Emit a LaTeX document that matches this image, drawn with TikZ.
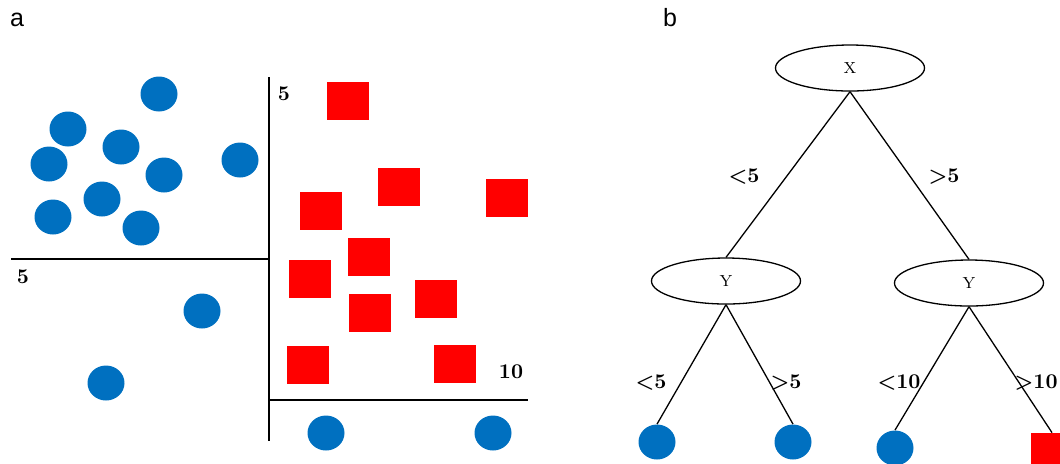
\documentclass[tikz,border=0pt]{standalone}
\usepackage{fontspec}
\newfontfamily\panelfont{Liberation Sans}
\usetikzlibrary{shapes.geometric}
\definecolor{dotblue}{RGB}{0,112,192}
\definecolor{boxred}{RGB}{255,0,0}

\begin{document}
\begin{tikzpicture}[x=0.5pt, y=-0.5pt,
 dot/.style={ellipse, fill=dotblue, inner sep=0pt, minimum width=18.5pt, minimum height=17.5pt},
 sq/.style={rectangle, fill=boxred, inner sep=0pt, minimum width=21pt, minimum height=19pt},
 split/.style={ellipse, draw, line width=.65pt, inner sep=0pt, minimum width=74.5pt, minimum height=23pt, font=\fontsize{8}{9}\selectfont},
 tick/.style={inner sep=0pt, font=\fontsize{10.5}{12}\selectfont\bfseries},
 panel/.style={inner sep=0pt, font=\panelfont\fontsize{12.5}{14}\selectfont},
 axis/.style={line width=1pt},
 edge/.style={line width=.65pt}]
\useasboundingbox (0,0) rectangle (1060,463);
\clip (0,0) rectangle (1060,463);
\node[panel] (pa) at (17,20) {a};
\node[panel] (pb) at (670,18) {b};
% scatter plot
\coordinate (ytop) at (269,77);
\coordinate (ybot) at (269,441);
\coordinate (xleft) at (11,259);
\coordinate (xmid) at (269,259);
\coordinate (xlow) at (269,400);
\coordinate (xright) at (528,400);
\draw[axis] (ytop) -- (ybot);
\draw[axis] (xleft) -- (xmid);
\draw[axis] (xlow) -- (xright);
\node[tick] (t1) at (23,277) {5};
\node[tick] (t2) at (284,94) {5};
\node[tick] (t3) at (511,372) {10};
\node[dot] (c1) at (159,94) {};
\node[dot] (c2) at (68,129) {};
\node[dot] (c3) at (121,147) {};
\node[dot] (c4) at (49,164) {};
\node[dot] (c5) at (164,175) {};
\node[dot] (c6) at (240,160) {};
\node[dot] (c7) at (102,199) {};
\node[dot] (c8) at (53,217) {};
\node[dot] (c9) at (141,228) {};
\node[dot] (c10) at (202,311) {};
\node[dot] (c11) at (106,383) {};
\node[dot] (c12) at (326,433) {};
\node[dot] (c13) at (493,433) {};
\node[sq] (s1) at (348,101) {};
\node[sq] (s2) at (321,211) {};
\node[sq] (s3) at (399,187) {};
\node[sq] (s4) at (507,198) {};
\node[sq] (s5) at (369,257) {};
\node[sq] (s6) at (310,279) {};
\node[sq] (s7) at (370,313) {};
\node[sq] (s8) at (436,299) {};
\node[sq] (s9) at (308,365) {};
\node[sq] (s10) at (455,364) {};
% decision tree
\node[split] (rootX) at (850,68) {X};
\node[split] (leftY) at (726,281) {Y};
\node[split] (rightY) at (969,283) {Y};
\node[dot] (leaf1) at (657,442) {};
\node[dot] (leaf2) at (793,442) {};
\node[dot] (leaf3) at (895,448) {};
\node[sq] (leaf4) at (1052,452) {};
\draw[edge] (rootX.south) -- (leftY.north);
\draw[edge] (rootX.south) -- (rightY.north);
\draw[edge] (leftY.south) -- (leaf1.north);
\draw[edge] (leftY.south) -- (leaf2.north);
\draw[edge] (rightY.south) -- (leaf3.north);
\draw[edge] (rightY.south) -- (leaf4.north);
\node[tick] (l1) at (744,177) {<5};
\node[tick] (l2) at (944,177) {>5};
\node[tick] (l3) at (651,383) {<5};
\node[tick] (l4) at (786,383) {>5};
\node[tick] (l5) at (899,383) {<10};
\node[tick, anchor=east] (l6) at (1058,383) {>10};
\end{tikzpicture}
\end{document}
